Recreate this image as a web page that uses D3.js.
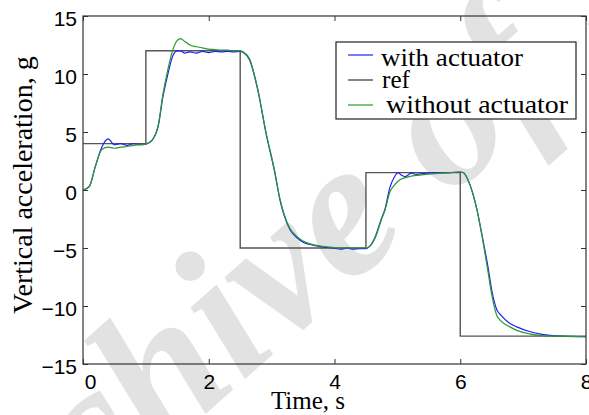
<!DOCTYPE html>
<html>
<head>
<meta charset="utf-8">
<script src="https://cdn.jsdelivr.net/npm/d3@7"></script>
<style>
  body { margin: 0; background: #fff; }
  .tick text { font-family: "Liberation Sans", Arial, sans-serif; font-size: 21px; fill: #000; }
  .serif { font-family: "Liberation Serif", "Times New Roman", serif; fill: #000; }
</style>
</head>
<body>
<script>
var times = [0, 0.1, 0.2, 0.3, 0.4, 0.5, 0.6, 0.7, 0.8, 0.9, 1.0, 1.1, 1.2, 1.27, 1.35, 1.43, 1.5, 1.55, 1.62, 1.7,
  1.8, 1.9, 2.0, 2.1, 2.2, 2.3, 2.4, 2.5, 2.55, 2.65, 2.78, 2.91, 3.05, 3.13, 3.2, 3.29, 3.4, 3.5, 3.61, 3.8,
  3.97, 4.1, 4.2, 4.3, 4.4, 4.5, 4.55, 4.65, 4.75, 4.8, 4.88, 4.95, 5.01, 5.06, 5.12, 5.22, 5.3, 5.46, 5.6, 5.8,
  6.0, 6.05, 6.12, 6.2, 6.27, 6.34, 6.44, 6.5, 6.58, 6.65, 6.79, 6.9, 7.1, 7.3, 7.6, 8.0];

var withActuator = [0, 0.3, 2.1, 3.7, 4.4, 3.9, 4.0, 3.85, 4.0, 3.9, 3.95, 4.3, 5.6, 8.0, 10.0, 11.6, 12.0, 12.0, 11.8, 11.9,
  11.8, 11.95, 11.85, 11.95, 11.9, 11.95, 11.9, 11.95, 11.85, 11.2, 8.6, 4.9, 1.5, -0.8, -2.2, -3.4, -4.1, -4.5, -4.7, -4.9,
  -5.0, -5.1, -5.0, -5.1, -5.05, -5.05, -4.9, -4.0, -2.4, -1.7, 0.2, 1.1, 1.5, 1.3, 1.15, 1.45, 1.35, 1.45, 1.5, 1.5,
  1.55, 1.5, 0.9, -0.3, -1.8, -3.7, -6.6, -8.6, -10.3, -10.8, -11.5, -11.8, -12.2, -12.45, -12.6, -12.65];

var withoutActuator = [0, 0.3, 2.1, 3.5, 3.7, 3.6, 3.7, 3.75, 3.85, 3.9, 3.95, 4.3, 5.7, 8.2, 10.4, 12.1, 12.9, 13.05, 12.8, 12.5,
  12.35, 12.25, 12.15, 12.1, 12.05, 12.05, 12.0, 12.0, 11.9, 11.3, 8.7, 5.0, 1.6, -0.7, -2.1, -3.3, -4.0, -4.4, -4.65, -4.85,
  -4.95, -5.0, -5.0, -5.0, -5.0, -5.0, -4.9, -4.1, -2.5, -1.8, -0.2, 0.4, 0.75, 0.95, 1.05, 1.2, 1.25, 1.35, 1.42, 1.48,
  1.55, 1.5, 0.9, -0.3, -1.8, -3.8, -7.0, -9.0, -10.8, -11.3, -11.8, -12.1, -12.4, -12.55, -12.6, -12.65];

var refTimes = [0, 1, 2.5, 4.5, 6, 8];
var refValues = [4, 12, -5, 1.5, -12.6, -12.6];

var xTicks = [0, 2, 4, 6, 8];
var yTicks = [-15, -10, -5, 0, 5, 10, 15];

var legendNames = ["with actuator", "ref", "without actuator"];
var colors = ["#1f1fff", "#333", "#2a9a2a"];

var W = 589, H = 415;
var mLeft = 83, mRight = 586, mTop = 16, mBottom = 364;

var xScale = d3.scaleLinear().domain([0, 8]).range([mLeft, mRight]);
var yScale = d3.scaleLinear().domain([-15, 15]).range([mBottom, mTop]);

var svg = d3.select("body").append("svg")
    .attr("width", W)
    .attr("height", H);

// watermark
svg.append("text")
    .attr("class", "serif")
    .attr("transform", "translate(-59,648) rotate(-41.5)")
    .style("font-size", "195px")
    .style("font-style", "italic")
    .style("font-weight", "bold")
    .style("fill", "#e2e2e2")
    .text("Archive of SID");

var line = d3.line()
    .x(function(d){ return xScale(d[0]); })
    .y(function(d){ return yScale(d[1]); })
    .curve(d3.curveMonotoneX);

var refLine = d3.line()
    .x(function(d){ return xScale(d[0]); })
    .y(function(d){ return yScale(d[1]); })
    .curve(d3.curveStepAfter);

var refData = refTimes.map(function(t, i){ return [t, refValues[i]]; });
var withData = times.map(function(t, i){ return [t, withActuator[i]]; });
var withoutData = times.map(function(t, i){ return [t, withoutActuator[i]]; });

svg.append("path").datum(refData)
    .attr("d", refLine)
    .attr("fill", "none").attr("stroke", "#555").attr("stroke-width", 1.4);

svg.append("path").datum(withData)
    .attr("d", line)
    .attr("fill", "none").attr("stroke", colors[0]).attr("stroke-width", 1.2);

svg.append("path").datum(withoutData)
    .attr("d", line)
    .attr("fill", "none").attr("stroke", colors[2]).attr("stroke-width", 1.2);

// axes with inward ticks
var xAxis = d3.axisBottom(xScale).tickValues(xTicks).tickSizeInner(-5).tickSizeOuter(0).tickPadding(6);
var yAxis = d3.axisLeft(yScale).tickValues(yTicks).tickSizeInner(-5).tickSizeOuter(0).tickPadding(6);

var gx = svg.append("g")
    .attr("transform", "translate(0," + mBottom + ")")
    .call(xAxis);
gx.selectAll(".tick text").attr("dy", "0.9em");
gx.selectAll(".tick text").filter(function(d){ return d === 0; }).attr("x", 7);

var gy = svg.append("g")
    .attr("transform", "translate(" + mLeft + ",0)")
    .call(yAxis);
gy.selectAll(".tick text").attr("dy", "0.45em");

svg.append("g")
    .attr("transform", "translate(0," + mTop + ")")
    .call(d3.axisTop(xScale).tickValues(xTicks).tickSizeInner(-5).tickSizeOuter(0).tickFormat(""));
svg.append("g")
    .attr("transform", "translate(" + mRight + ",0)")
    .call(d3.axisRight(yScale).tickValues(yTicks).tickSizeInner(-5).tickSizeOuter(0).tickFormat(""));

svg.selectAll(".domain").remove();
svg.selectAll(".tick line").attr("stroke", "#333");

svg.append("rect")
    .attr("x", mLeft).attr("y", mTop)
    .attr("width", mRight - mLeft).attr("height", mBottom - mTop)
    .attr("fill", "none").attr("stroke", "#333").attr("stroke-width", 1.2);

// axis titles
svg.append("text")
    .attr("class", "serif")
    .attr("x", 308).attr("y", 409)
    .attr("text-anchor", "middle")
    .style("font-size", "25px")
    .text("Time, s");

svg.append("text")
    .attr("class", "serif")
    .attr("transform", "translate(32,185) rotate(-90)")
    .attr("text-anchor", "middle")
    .style("font-size", "28px")
    .text("Vertical acceleration, g");

// legend
var legend = svg.append("g");
legend.append("rect")
    .attr("x", 336).attr("y", 42)
    .attr("width", 240).attr("height", 77)
    .attr("fill", "#fff").attr("stroke", "#222").attr("stroke-width", 1.2);

var legendLineY = [55, 80, 105];
var legendTextY = [66, 88, 113];
var legendTextX = [381, 382, 386];
var legendTextW = [142, 28, 182];

legendNames.forEach(function(name, i){
    legend.append("line")
        .attr("x1", 348).attr("x2", 373)
        .attr("y1", legendLineY[i]).attr("y2", legendLineY[i])
        .attr("stroke", colors[i]).attr("stroke-width", 1.2);
    legend.append("text")
        .attr("class", "serif")
        .attr("x", legendTextX[i]).attr("y", legendTextY[i])
        .attr("textLength", legendTextW[i])
        .attr("lengthAdjust", "spacingAndGlyphs")
        .style("font-size", "25px")
        .text(name);
});
</script>
</body>
</html>
